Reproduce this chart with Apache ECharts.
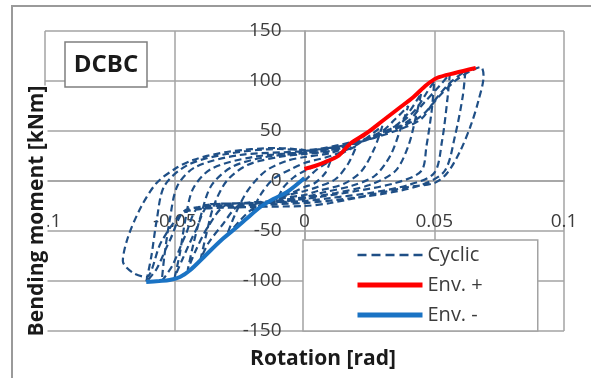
<!DOCTYPE html>
<html>
<head>
<meta charset="utf-8">
<script src="https://cdn.jsdelivr.net/npm/echarts@6/dist/echarts.min.js"></script>
<style>
  html, body { margin: 0; padding: 0; background: #fff; }
  #chart { width: 591px; height: 378px; }
</style>
</head>
<body>
<div id="chart"></div>
<script>
// tick values of both axes
const xTicks = [-0.1, -0.05, 0, 0.05, 0.1];
const yTicks = [-150, -100, -50, 0, 50, 100, 150];

// envelope curves [rotation, moment]
const envPos = [
  [0, 12], [0.004, 15], [0.008, 19], [0.013, 25], [0.0175, 37], [0.024, 48],
  [0.03, 60], [0.036, 72], [0.042, 84], [0.047, 96], [0.051, 103], [0.058, 108], [0.066, 113]
];
const envNeg = [
  [0, 3], [-0.0067, -11], [-0.012, -18], [-0.017, -26], [-0.022, -37], [-0.026, -46],
  [-0.032, -59], [-0.038, -74], [-0.044, -89], [-0.048, -96], [-0.052, -99], [-0.056, -100], [-0.061, -101]
];

// cyclic test, one continuous path
const cyclic = [
  [0, 0], [0.005, 12], [0.01, 20], [0.008, 8], [0.004, -2], [0, -6], [-0.005, -12], [-0.01, -16],
  [-0.008, -6], [-0.004, 4], [0, 10],
  [0.01, 22], [0.02, 35], [0.017, 18], [0.012, 2], [0.005, -6], [0, -10], [-0.01, -17], [-0.02, -30],
  [-0.017, -14], [-0.012, 2], [-0.005, 12], [0, 18],
  [0.01, 25], [0.02, 36], [0.03, 55], [0.027, 33], [0.022, 10], [0.015, -3], [0.005, -10], [0, -14],
  [-0.01, -18], [-0.02, -28], [-0.025, -40], [-0.03, -55], [-0.027, -35], [-0.022, -10], [-0.015, 10],
  [-0.007, 20], [0, 24],
  [0.01, 28], [0.02, 38], [0.03, 50], [0.035, 62], [0.04, 75], [0.037, 52], [0.033, 25], [0.027, 5],
  [0.018, -5], [0.008, -11], [0, -16], [-0.012, -20], [-0.025, -24], [-0.032, -45], [-0.037, -62],
  [-0.04, -78], [-0.038, -55], [-0.035, -25], [-0.03, 0], [-0.022, 16], [-0.01, 24], [0, 27],
  [0.01, 30], [0.025, 42], [0.035, 55], [0.04, 68], [0.045, 88], [0.043, 65], [0.04, 35], [0.035, 10],
  [0.025, -4], [0.012, -12], [0, -17], [-0.013, -21], [-0.03, -24], [-0.037, -45], [-0.042, -70],
  [-0.045, -89], [-0.043, -65], [-0.04, -35], [-0.036, -5], [-0.028, 14], [-0.015, 24], [0, 28],
  [0.012, 32], [0.027, 45], [0.037, 58], [0.043, 72], [0.047, 88], [0.05, 100], [0.049, 70], [0.047, 35],
  [0.045, 10], [0.035, -2], [0.02, -10], [0.008, -15], [0, -18], [-0.015, -22], [-0.036, -23],
  [-0.042, -50], [-0.047, -78], [-0.05, -96], [-0.048, -72], [-0.046, -40], [-0.043, -8], [-0.036, 12],
  [-0.02, 24], [0, 29],
  [0.015, 35], [0.03, 47], [0.04, 60], [0.046, 78], [0.052, 95], [0.056, 107], [0.055, 80], [0.053, 40],
  [0.05, 8], [0.04, -4], [0.025, -12], [0.01, -17], [0, -20], [-0.02, -22], [-0.04, -25], [-0.046, -55],
  [-0.051, -85], [-0.055, -100], [-0.054, -75], [-0.052, -40], [-0.049, -5], [-0.042, 14], [-0.025, 26],
  [0, 30],
  [0.018, 37], [0.035, 50], [0.045, 62], [0.05, 80], [0.056, 98], [0.062, 110], [0.061, 85], [0.058, 45],
  [0.054, 10], [0.045, -4], [0.03, -13], [0.012, -19], [0, -22], [-0.02, -24], [-0.045, -28],
  [-0.052, -60], [-0.057, -88], [-0.061, -101], [-0.059, -75], [-0.057, -40], [-0.054, -5],
  [-0.045, 16], [-0.03, 27], [-0.01, 32], [0, 31],
  [0.02, 40], [0.035, 52], [0.045, 65], [0.052, 85], [0.058, 100], [0.064, 110], [0.068, 114],
  [0.069, 105], [0.067, 80], [0.064, 55], [0.06, 30], [0.055, 8], [0.05, -2], [0.04, -6], [0.025, -14],
  [0.01, -22], [0, -25], [-0.02, -26], [-0.045, -30], [-0.055, -60], [-0.061, -96], [-0.066, -92],
  [-0.07, -80], [-0.068, -56], [-0.063, -26], [-0.057, -2], [-0.05, 12], [-0.043, 21], [-0.03, 29],
  [-0.011, 33], [0, 31]
];

const FONT = '"Open Sans", "Liberation Sans", sans-serif';
const gridColor = '#a3a3a3';
const cyclicColor = '#1f4f86';
const posColor = '#ff0000';
const negColor = '#1a73c4';

const chart = echarts.init(document.getElementById('chart'));

// axes cross at zero: move them inside the grid (grid 519 x 300)
const yAxisOffset = -519 / 2;
const xAxisOffset = -300 / 2;

const option = {
  backgroundColor: '#fff',
  animation: false,
  grid: { left: 45, top: 31, width: 519, height: 300, containLabel: false },
  xAxis: {
    type: 'value',
    position: 'bottom',
    offset: xAxisOffset,
    min: xTicks[0],
    max: xTicks[xTicks.length - 1],
    interval: xTicks[1] - xTicks[0],
    axisLine: { onZero: false, lineStyle: { color: gridColor, width: 1.5 } },
    axisTick: { show: false },
    axisLabel: {
      margin: 31, fontSize: 19, fontFamily: FONT, color: '#3c3c3c',
      showMinLabel: true, showMaxLabel: true,
      formatter: v => String(Math.round(v * 100) / 100)
    },
    splitLine: { show: true, lineStyle: { color: gridColor, width: 1.5 } }
  },
  yAxis: {
    type: 'value',
    position: 'left',
    offset: yAxisOffset,
    min: yTicks[0],
    max: yTicks[yTicks.length - 1],
    interval: yTicks[1] - yTicks[0],
    axisLine: { onZero: false, lineStyle: { color: gridColor, width: 1.5 } },
    axisTick: { show: false },
    axisLabel: { margin: 23, fontSize: 19, fontFamily: FONT, color: '#3c3c3c' },
    splitLine: { show: true, lineStyle: { color: gridColor, width: 1.5 } }
  },
  legend: {
    orient: 'vertical',
    left: 303,
    top: 240,
    padding: [5, 55, 6, 52],
    itemWidth: 65,
    itemHeight: 20,
    itemGap: 10,
    backgroundColor: '#fff',
    borderColor: '#a3a3a3',
    borderWidth: 1.5,
    borderRadius: 0,
    textStyle: { fontSize: 20, fontFamily: FONT, color: '#3c3c3c' },
    data: [
      { name: 'Cyclic', itemStyle: { opacity: 0 }, lineStyle: { width: 2.5, type: [9, 5] } },
      { name: 'Env. +', itemStyle: { opacity: 0 }, lineStyle: { width: 5 } },
      { name: 'Env. -', itemStyle: { opacity: 0 }, lineStyle: { width: 5 } }
    ]
  },
  series: [
    {
      name: 'Cyclic',
      type: 'line',
      data: cyclic,
      symbol: 'none',
      smooth: 0.3,
      lineStyle: { color: cyclicColor, width: 2.2, type: [7, 4] },
      itemStyle: { color: cyclicColor },
      z: 2
    },
    {
      name: 'Env. -',
      type: 'line',
      data: envNeg,
      symbol: 'none',
      smooth: 0.3,
      lineStyle: { color: negColor, width: 4 },
      itemStyle: { color: negColor },
      z: 3
    },
    {
      name: 'Env. +',
      type: 'line',
      data: envPos,
      symbol: 'none',
      smooth: 0.3,
      lineStyle: { color: posColor, width: 4 },
      itemStyle: { color: posColor },
      z: 4
    }
  ],
  graphic: [
    {
      type: 'rect', z: 0, silent: true,
      shape: { x: 12, y: 6, width: 640, height: 420 },
      style: { fill: 'none', stroke: '#9a9a9a', lineWidth: 2 }
    },
    {
      type: 'rect', z: 50,
      shape: { x: 65, y: 42, width: 82, height: 45 },
      style: { fill: '#fff', stroke: '#7f7f7f', lineWidth: 1.5 }
    },
    {
      type: 'text', z: 51, x: 106, y: 65,
      style: { text: 'DCBC', font: 'bold 24px ' + FONT, fill: '#1a1a1a', align: 'center', verticalAlign: 'middle' }
    },
    {
      type: 'text', z: 50, x: 37.5, y: 211, rotation: Math.PI / 2,
      style: {
        text: 'Bending moment [kNm]', font: 'bold 21px ' + FONT, fill: '#1a1a1a', lineHeight: 20,
        align: 'center', verticalAlign: 'middle', backgroundColor: '#fff'
      }
    },
    {
      type: 'text', z: 50, x: 323, y: 359,
      style: { text: 'Rotation [rad]', font: 'bold 21px ' + FONT, fill: '#1a1a1a', align: 'center', verticalAlign: 'middle' }
    }
  ]
};

chart.setOption(option);
</script>
</body>
</html>
